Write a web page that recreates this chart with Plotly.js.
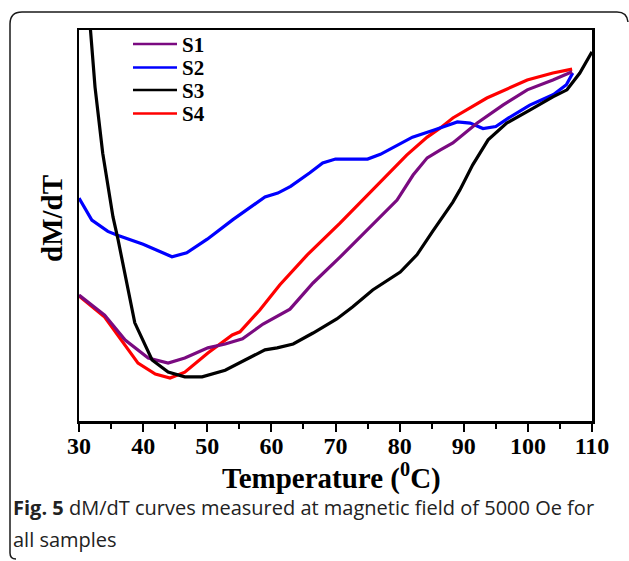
<!DOCTYPE html>
<html>
<head>
<meta charset="utf-8">
<script src="https://cdn.plot.ly/plotly-3.0.1.min.js"></script>
<style>
  html, body { margin: 0; padding: 0; background: #fff; }
  #chart { width: 629px; height: 561px; }
</style>
</head>
<body>
<div id="chart"></div>
<script>
// ---- data (temperature in °C, dM/dT in arbitrary units) ----
const s1_T = [30, 34, 37.2, 40.8, 43.9, 46.5, 50.1, 52.8, 55.5, 58.7, 62.9, 66.5, 70.7, 74.9, 76.9, 79.6, 82.1, 84.3, 86.3, 88.3, 92.1, 96.1, 99.9, 103.9, 106.9];
const s1_V = [32.2, 27.1, 20.7, 16.1, 14.8, 16.1, 18.7, 19.7, 21.0, 24.8, 28.6, 35.3, 41.9, 48.8, 51.9, 56.5, 62.9, 67.3, 69.3, 71.1, 76.2, 80.8, 84.7, 87.2, 89.3];

const s2_T = [30, 32, 34.5, 36, 40, 44.5, 46.8, 50, 54, 57.4, 59, 61, 63, 66, 68, 70, 75, 77, 82, 85.5, 89, 91, 93, 95, 97, 100.3, 104, 106, 107];
const s2_V = [57, 51.4, 48.5, 47.5, 45.2, 42.0, 43.0, 46.5, 51.5, 55.5, 57.3, 58.3, 60, 63.5, 66, 67, 67, 68.2, 72.6, 74.5, 76.5, 76.2, 74.8, 75.3, 77.5, 80.8, 83.5, 86, 89];

const s3_T = [31.5, 31.8, 32.5, 33.7, 35.3, 36.1, 38.7, 41.4, 43.9, 46.5, 49.2, 52.8, 55.9, 59.0, 60.9, 63.4, 66.5, 70.2, 72.7, 75.8, 80.1, 82.7, 85.2, 88.3, 89.4, 91.4, 93.8, 96.7, 100.3, 103.9, 106.1, 108.1, 110];
const s3_V = [106, 100, 85.4, 68.5, 52.2, 46.3, 25.1, 15.6, 12.5, 11.3, 11.3, 13.0, 15.6, 18.2, 18.7, 19.7, 22.5, 26.1, 29.2, 33.5, 38.1, 42.5, 48.6, 56.0, 59.1, 65.5, 71.9, 76.2, 79.5, 82.9, 84.7, 89.0, 94.4];

const s4_T = [30, 34, 39.2, 41.9, 44.2, 46.5, 50.1, 53.9, 55.1, 58.2, 61.3, 65.6, 70.7, 75.8, 81.1, 84.3, 86.3, 88.3, 93.6, 99.9, 103.9, 106.9];
const s4_V = [32.0, 26.6, 14.8, 12.0, 11.0, 12.5, 17.4, 22.0, 22.8, 28.4, 34.8, 42.5, 50.6, 59.1, 68.0, 72.6, 74.9, 77.5, 82.6, 87.2, 89.0, 90.0];

const seriesNames = ['S1', 'S2', 'S3', 'S4'];
const seriesColors = ['#7a0a80', '#0000ff', '#000000', '#ff0000'];
const xTickVals = [30, 40, 50, 60, 70, 80, 90, 100, 110];
const xTitle = 'Temperature (<sup>0</sup>C)';
const yTitle = 'dM/dT';
const caption1 = '<b>Fig. 5</b> dM/dT curves measured at magnetic field of 5000 Oe for';
const caption2 = 'all samples';

// ---- layout geometry helpers ----
const W = 629, H = 561;
const M = {l: 79, r: 37, t: 30, b: 140};
const pw = W - M.l - M.r, ph = H - M.t - M.b;
const px = x => (x - M.l) / pw;
const py = y => (H - M.b - y) / ph;

const serif = 'Liberation Serif, Times New Roman, serif';

const mk = (T, V, i) => ({
  x: T, y: V, name: seriesNames[i], type: 'scatter', mode: 'lines',
  line: {color: seriesColors[i], width: 3.2},
  showlegend: false
});

// drawing order: S4, S2, S1, S3
const data = [
  mk(s4_T, s4_V, 3),
  mk(s2_T, s2_V, 1),
  mk(s1_T, s1_V, 0),
  mk(s3_T, s3_V, 2)
];

const framePath =
  `M ${px(16)},${py(559)} Q ${px(10)},${py(559)} ${px(10)},${py(553)} ` +
  `L ${px(10)},${py(24)} Q ${px(10)},${py(12)} ${px(22)},${py(12)} ` +
  `L ${px(617)},${py(12)} Q ${px(627)},${py(12)} ${px(628)},${py(22)}`;

const shapes = [{
  type: 'path', xref: 'paper', yref: 'paper', path: framePath,
  line: {color: '#1a1a1a', width: 1.5}
}];
const annotations = [];

// legend (drawn as key lines + labels)
const legY = [44, 67.5, 90, 113.5];
seriesNames.forEach((n, i) => {
  shapes.push({type: 'line', xref: 'paper', yref: 'paper',
    x0: px(133), x1: px(177), y0: py(legY[i]), y1: py(legY[i]),
    line: {color: seriesColors[i], width: 2.5}});
  annotations.push({xref: 'paper', yref: 'paper', x: px(180), y: py(legY[i] + 0.5),
    xanchor: 'left', yanchor: 'middle', showarrow: false, text: n,
    font: {family: serif, size: 21, color: '#000', weight: 'bold'}});
});

// axis titles
annotations.push({xref: 'paper', yref: 'paper', x: px(331), y: py(476),
  xanchor: 'center', yanchor: 'middle', showarrow: false, text: xTitle,
  font: {family: serif, size: 29, color: '#000', weight: 'bold'}});
annotations.push({xref: 'paper', yref: 'paper', x: px(52), y: py(219),
  xanchor: 'center', yanchor: 'middle', showarrow: false, text: yTitle, textangle: -90,
  font: {family: serif, size: 29, color: '#000', weight: 'bold'}});

// caption
annotations.push({xref: 'paper', yref: 'paper', x: px(11), y: py(507), xanchor: 'left', yanchor: 'middle',
  showarrow: false, align: 'left', text: caption1,
  font: {family: 'Open Sans, Noto Sans, sans-serif', size: 20, color: '#222'}});
annotations.push({xref: 'paper', yref: 'paper', x: px(11), y: py(539), xanchor: 'left', yanchor: 'middle',
  showarrow: false, align: 'left', text: caption2,
  font: {family: 'Open Sans, Noto Sans, sans-serif', size: 20, color: '#222'}});

const layout = {
  width: W, height: H,
  margin: M,
  paper_bgcolor: '#fff', plot_bgcolor: '#fff',
  showlegend: false,
  xaxis: {
    range: [30, 110],
    tickvals: xTickVals,
    ticktext: xTickVals.map(String),
    ticks: 'outside', ticklen: 8, tickwidth: 2, tickcolor: '#000',
    ticklabelstandoff: -6,
    minor: {dtick: 5, ticks: 'outside', ticklen: 5, tickwidth: 2, tickcolor: '#000'},
    showline: true, linewidth: 2.5, linecolor: '#000', mirror: true,
    showgrid: false, zeroline: false,
    tickfont: {family: serif, size: 24, color: '#000', weight: 'bold'}
  },
  yaxis: {
    range: [0, 100],
    showticklabels: false, ticks: '',
    showline: true, linewidth: 2.5, linecolor: '#000', mirror: true,
    showgrid: false, zeroline: false
  },
  shapes: shapes,
  annotations: annotations
};

Plotly.newPlot('chart', data, layout, {staticPlot: true, displayModeBar: false});
</script>
</body>
</html>
